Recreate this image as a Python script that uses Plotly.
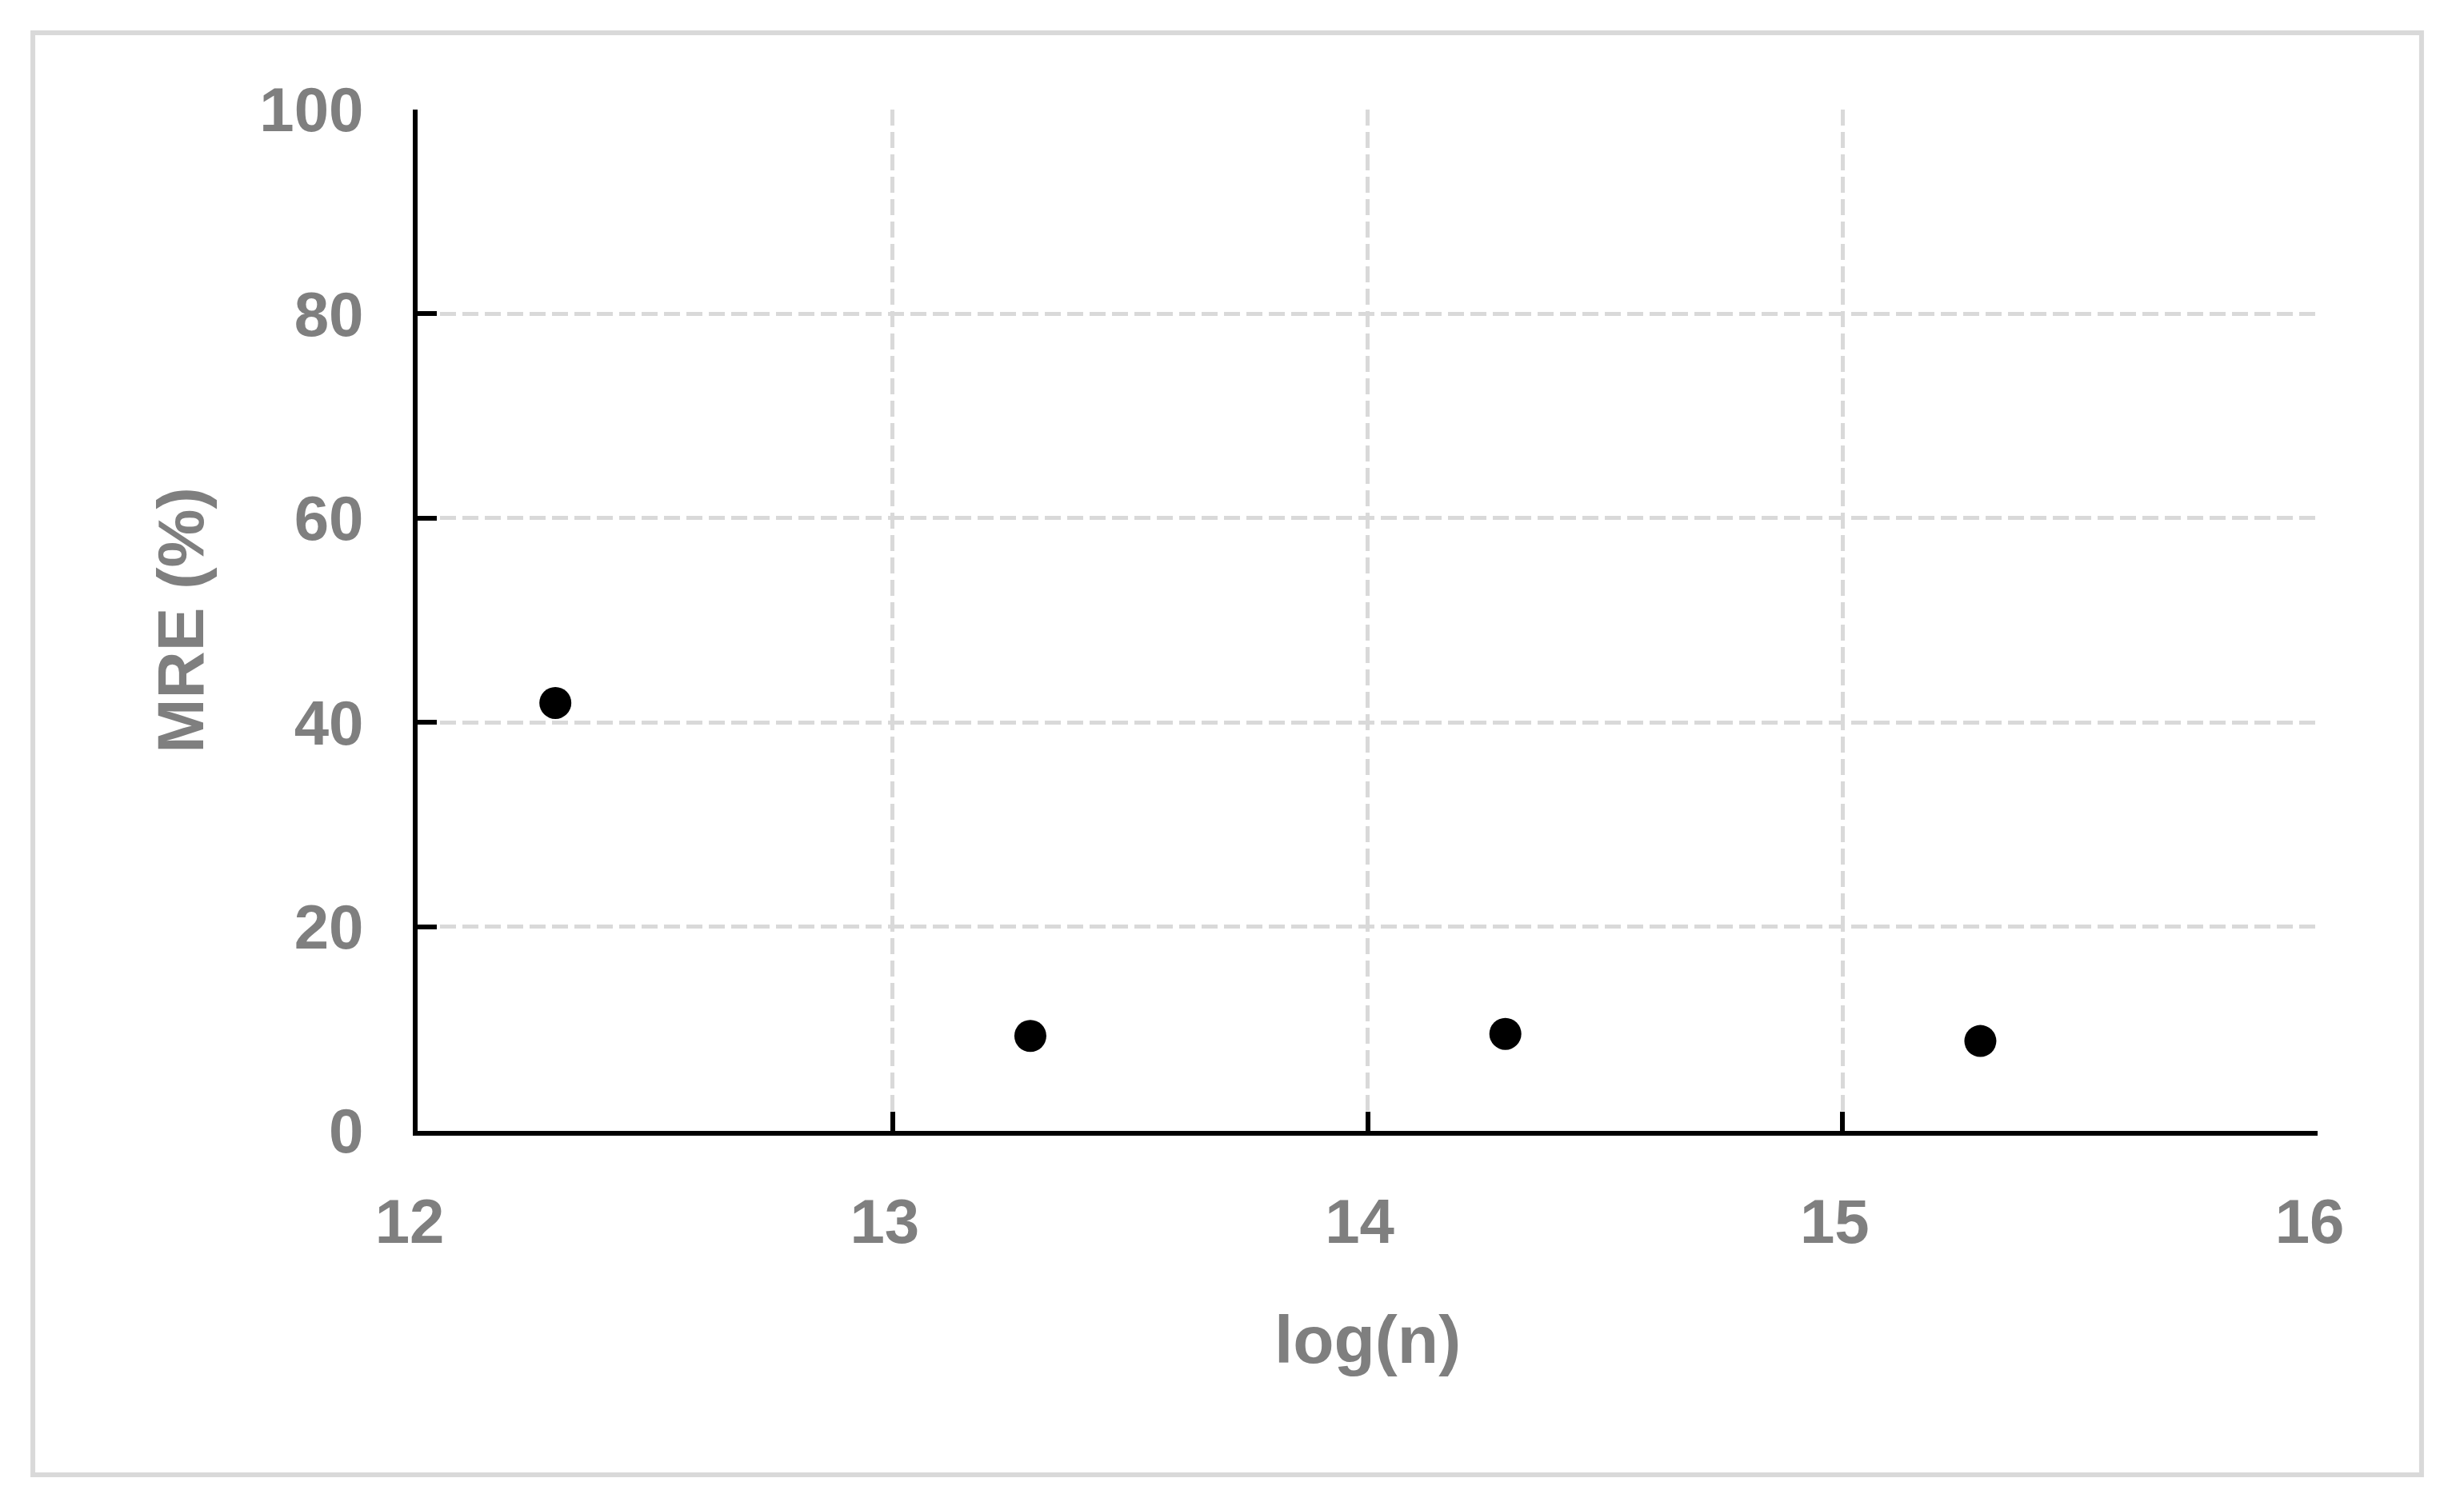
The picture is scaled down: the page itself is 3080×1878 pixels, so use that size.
import plotly.graph_objects as go

# MRE of the estimate against log(n)
log_n = [12.29, 13.29, 14.29, 15.29]
mre_pct = [41.9, 9.3, 9.5, 8.8]

x_ticks = [12, 13, 14, 15, 16]
y_ticks = [0, 20, 40, 60, 80, 100]

GREY_TEXT = "#7f7f7f"
GRID = "#d9d9d9"
FONT = "Liberation Sans, Arial, sans-serif"

fig = go.Figure(
    go.Scatter(
        x=log_n,
        y=mre_pct,
        mode="markers",
        marker=dict(color="black", size=40, line=dict(width=0)),
        showlegend=False,
    )
)

axis_common = dict(
    showline=True,
    linecolor="black",
    linewidth=6,
    ticks="inside",
    ticklen=24,
    tickwidth=6,
    tickcolor="black",
    showgrid=True,
    gridcolor=GRID,
    gridwidth=5,
    griddash="20px,8px",
    zeroline=False,
    tickfont=dict(family=FONT, size=78, color=GREY_TEXT, weight="bold"),
    automargin=False,
)

fig.update_xaxes(
    range=[12, 16],
    tickvals=x_ticks,
    title=dict(text="log(n)", font=dict(family=FONT, size=84, color=GREY_TEXT, weight="bold"), standoff=78),
    ticklabelstandoff=40,
    ticklabelshift=-10,
    **axis_common,
)
fig.update_yaxes(
    range=[0, 100],
    tickvals=y_ticks,
    title=dict(text="MRE (%)", font=dict(family=FONT, size=82, color=GREY_TEXT, weight="bold"), standoff=45),
    ticklabelstandoff=46,
    **axis_common,
)

# thin light frame round the whole chart
fig.add_shape(
    type="rect", xref="paper", yref="paper",
    x0=-0.2025, x1=1.0547, y0=-0.3367, y1=1.0752,
    line=dict(color=GRID, width=6), layer="below",
)

# page body adds 8px, so the figure is a bit smaller than the window
fig.update_layout(
    width=3064,
    height=1862,
    margin=dict(l=514, r=175, t=129, b=456),
    paper_bgcolor="white",
    plot_bgcolor="white",
    font=dict(family=FONT, color=GREY_TEXT),
)

fig.write_html("out.html")
